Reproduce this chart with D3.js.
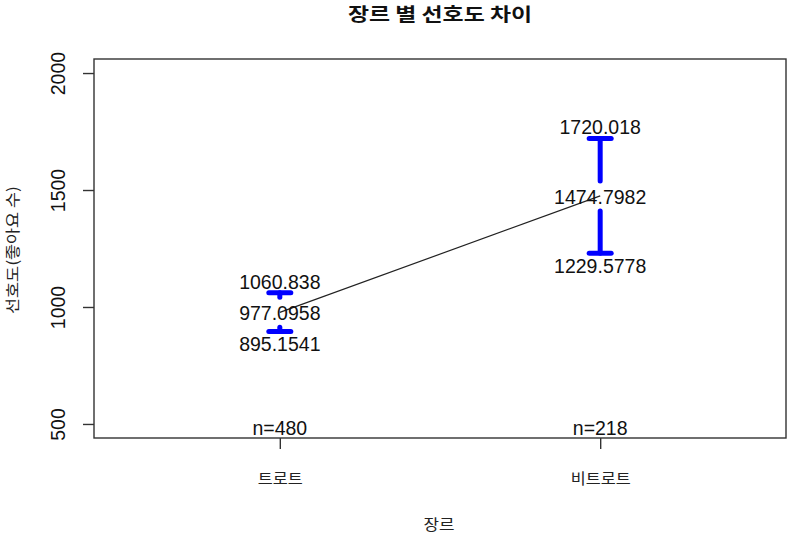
<!DOCTYPE html>
<html><head><meta charset="utf-8">
<script src="https://cdn.jsdelivr.net/npm/d3@7"></script>
<style>body{margin:0;background:#fff}</style>
</head><body>
<svg id="c" width="794" height="538"></svg>
<script>
const categories = ["트로트", "비트로트"];
const means = [977.0958, 1474.7982];
const lower = [895.1541, 1229.5778];
const upper = [1060.838, 1720.018];
const counts = [480, 218];
const yTicks = [500, 1000, 1500, 2000];

const W = 794, H = 538;
const L = 94, R = 786, T = 59, B = 438;
const svg = d3.select("#c");
const num = "'Liberation Sans', Arial, sans-serif";
const kr = "'Noto Sans CJK KR', sans-serif";

const x = d3.scaleLinear().domain([0.42, 2.58]).range([L, R]);
const y = d3.scaleLinear().domain([440, 2060]).range([B, T]);

// frame
svg.append("rect").attr("x", L).attr("y", T).attr("width", R - L).attr("height", B - T)
  .attr("fill", "none").attr("stroke", "#333").attr("stroke-width", 1.4);

// y axis
const ya = svg.append("g").attr("transform", `translate(${L},0)`)
  .call(d3.axisLeft(y).tickValues(yTicks).tickSize(11).tickSizeOuter(0).tickFormat(d3.format("d")));
ya.select(".domain").remove();
ya.selectAll("line").attr("stroke", "#333").attr("stroke-width", 1.4);
ya.selectAll("text").attr("font-family", num).attr("font-size", 19.5).attr("fill", "#111")
  .attr("text-anchor", "middle").attr("dy", null).attr("x", null)
  .attr("transform", d => `translate(-36,0) rotate(-90)`).attr("dominant-baseline", "central");

// x axis
const xa = svg.append("g").attr("transform", `translate(0,${B})`)
  .call(d3.axisBottom(x).tickValues([1, 2]).tickSize(11).tickSizeOuter(0).tickFormat(d => categories[d - 1]));
xa.select(".domain").remove();
xa.selectAll("line").attr("stroke", "#333").attr("stroke-width", 1.4);
xa.selectAll("text").attr("font-family", kr).attr("font-size", 15).attr("fill", "#222")
  .attr("y", 41).attr("dy", "0.35em")
  .attr("textLength", (d) => categories[d - 1].length * 15).attr("lengthAdjust", "spacingAndGlyphs");

// connecting line
const idx = d3.range(categories.length);
svg.append("path").datum(idx)
  .attr("d", d3.line().x(i => x(i + 1)).y(i => y(means[i])))
  .attr("fill", "none").attr("stroke", "#222").attr("stroke-width", 1.2);

// error bars
const gap = 15, capW = 11;
const eb = svg.append("g").attr("stroke", "#0000FF").attr("stroke-width", 5).attr("stroke-linecap", "round");
idx.forEach(i => {
  const cx = x(i + 1), ym = y(means[i]), yu = y(upper[i]), yl = y(lower[i]);
  if (yu < ym - gap) eb.append("line").attr("x1", cx).attr("x2", cx).attr("y1", yu).attr("y2", ym - gap);
  if (yl > ym + gap) eb.append("line").attr("x1", cx).attr("x2", cx).attr("y1", ym + gap).attr("y2", yl);
  eb.append("line").attr("x1", cx - capW).attr("x2", cx + capW).attr("y1", yu).attr("y2", yu);
  eb.append("line").attr("x1", cx - capW).attr("x2", cx + capW).attr("y1", yl).attr("y2", yl);
});

// value labels
const lab = svg.append("g").attr("font-family", num).attr("font-size", 19.5).attr("fill", "#111").attr("text-anchor", "middle");
idx.forEach(i => {
  const cx = x(i + 1);
  lab.append("text").attr("x", cx).attr("y", y(means[i]) + 1).attr("dy", "0.35em").text(String(means[i]));
  lab.append("text").attr("x", cx).attr("y", y(upper[i]) - 11).attr("dy", "0.35em").text(String(upper[i]));
  lab.append("text").attr("x", cx).attr("y", y(lower[i]) + 13).attr("dy", "0.35em").text(String(lower[i]));
  lab.append("text").attr("x", cx).attr("y", y(440) - 10).attr("dy", "0.35em").text("n=" + counts[i]);
});

// titles
svg.append("text").attr("x", 440).attr("y", 15).attr("dy", "0.35em").attr("text-anchor", "middle")
  .attr("font-family", kr).attr("font-weight", "bold").attr("font-size", 18.5).attr("fill", "#111")
  .attr("textLength", 184).attr("lengthAdjust", "spacingAndGlyphs").text("장르 별 선호도 차이");
svg.append("text").attr("x", 439).attr("y", 525).attr("dy", "0.35em").attr("text-anchor", "middle")
  .attr("font-family", kr).attr("font-size", 15).attr("fill", "#222")
  .attr("textLength", 31).attr("lengthAdjust", "spacingAndGlyphs").text("장르");
svg.append("text").attr("transform", `translate(13,250) rotate(-90)`).attr("dy", "0.35em")
  .attr("text-anchor", "middle").attr("font-family", kr).attr("font-size", 15).attr("fill", "#222")
  .attr("textLength", 128).attr("lengthAdjust", "spacingAndGlyphs").text("선호도(좋아요 수)");
</script>
</body></html>
